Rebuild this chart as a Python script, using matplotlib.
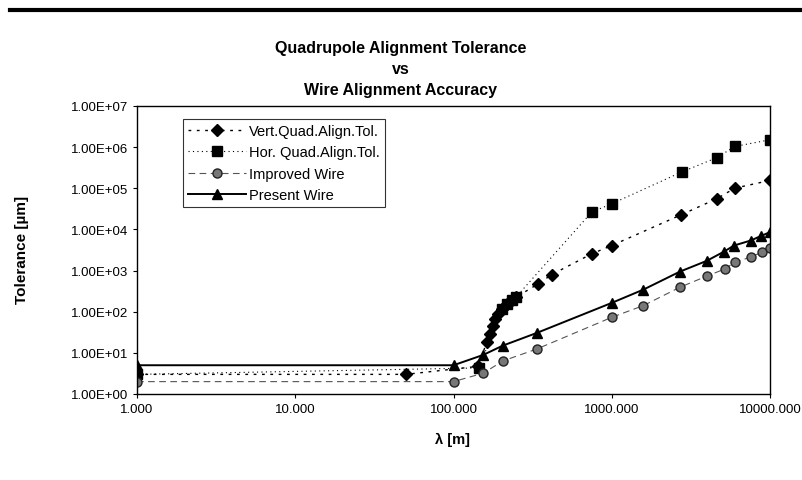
import matplotlib
matplotlib.use('Agg')
import matplotlib.pyplot as plt
from matplotlib.lines import Line2D

plt.rcParams['font.family'] = ['Liberation Sans', 'DejaVu Sans']

# wavelength [m] and tolerances [um]
vert_x = [1, 50, 143, 162, 170, 177, 183, 192, 202, 217, 233, 248, 343, 418, 747, 1000, 2740, 4600, 6000, 10000]
vert_y = [3, 3, 4.7, 18, 29, 46, 67, 88, 117, 155, 197, 225, 475, 800, 2550, 4060, 22600, 55600, 101000, 155000]

hor_x = [1, 145, 202, 217, 233, 248, 747, 1000, 2760, 4600, 6000, 10000]
hor_y = [3, 4.3, 117, 155, 197, 225, 26400, 42000, 248000, 552000, 1040000, 1510000]

impr_x = [1, 100, 154, 206, 336, 1000, 1585, 2700, 3980, 5200, 6000, 7550, 8900, 10000]
impr_y = [2, 2, 3.2, 6.4, 12.4, 73, 141, 394, 731, 1100, 1600, 2120, 2800, 3510]

pres_x = [1, 100, 154, 205, 336, 1000, 1585, 2700, 3980, 5130, 5920, 7550, 8720, 10000]
pres_y = [5, 5, 8.9, 15, 30.5, 164, 345, 946, 1720, 2900, 4060, 5370, 6870, 8600]

x_ticks = [1, 10, 100, 1000, 10000]
y_ticks = [1e0, 1e1, 1e2, 1e3, 1e4, 1e5, 1e6, 1e7]

fig = plt.figure(figsize=(8.02, 4.81), dpi=100)
ax = fig.add_axes([137 / 802, 1 - 395 / 481, (770 - 137) / 802, (395 - 107) / 481])

ax.plot(vert_x, vert_y, color='black', lw=1.0, ls=(0, (2, 4)), marker='D', ms=6.5,
        label='Vert.Quad.Align.Tol.')
ax.plot(hor_x, hor_y, color='black', lw=0.8, ls=(0, (1, 3)), marker='s', ms=7,
        label='Hor. Quad.Align.Tol.')
ax.plot(impr_x, impr_y, color='#555555', lw=0.8, ls=(0, (6, 4)), marker='o', ms=6.5,
        markerfacecolor='#777777', markeredgecolor='#222222', label='Improved Wire')
ax.plot(pres_x, pres_y, color='black', lw=1.4, marker='^', ms=7.5, label='Present Wire')

ax.set_xscale('log')
ax.set_yscale('log')
ax.set_xlim(1, 10000)
ax.set_ylim(1, 1e7)
ax.set_xticks(x_ticks)
ax.set_xticklabels(['%.3f' % v for v in x_ticks])
ax.set_yticks(y_ticks)
ax.set_yticklabels(['%.2fE+%02d' % (1.0, i) for i in range(len(y_ticks))])
ax.minorticks_off()
ax.tick_params(labelsize=9.5, length=3, direction='out')
for s in ax.spines.values():
    s.set_linewidth(1.0)

fig.text(453 / 802, 1 - 440 / 481, 'λ [m]', ha='center', va='center',
         fontsize=10.5, fontweight='bold')
fig.text(22 / 802, 1 - 250 / 481, 'Tolerance [µm]', ha='center', va='center',
         rotation=90, fontsize=11, fontweight='bold')

fig.text(0.5, 1 - 70 / 481, 'Quadrupole Alignment Tolerance\nvs\nWire Alignment Accuracy',
         ha='center', va='center', fontsize=11.5, fontweight='bold', linespacing=1.5)

fig.add_artist(Line2D([10 / 802, 1], [1 - 11 / 481, 1 - 11 / 481], color='black', lw=3,
                      transform=fig.transFigure))

leg = ax.legend(loc='upper left', bbox_to_anchor=(46 / 633, 1 - 13 / 288), fontsize=10.5,
                handlelength=4.0, handletextpad=0.2, borderpad=0.35, borderaxespad=0,
                frameon=True, fancybox=False, edgecolor='black', labelspacing=0.5)
leg.get_frame().set_linewidth(0.8)

fig.savefig('out.png', dpi=100)
